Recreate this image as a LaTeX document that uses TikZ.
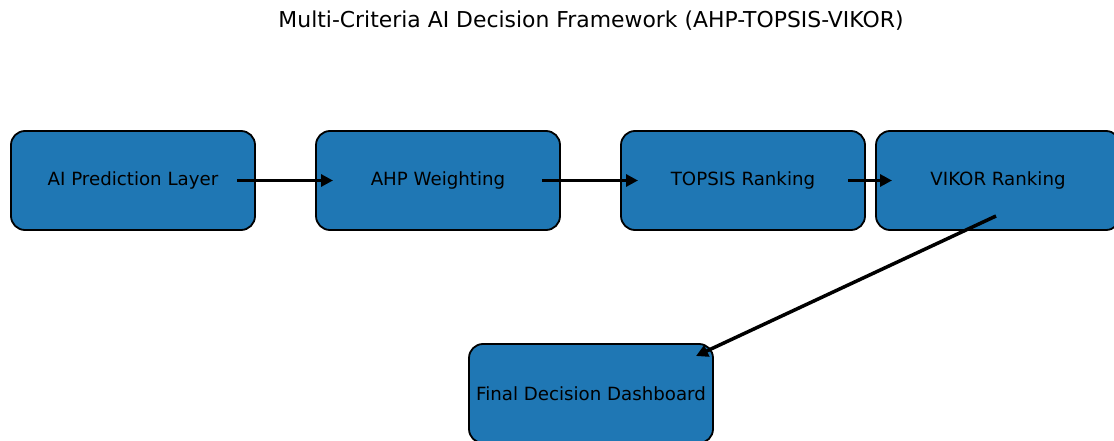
\documentclass[tikz,border=0pt]{standalone}
\usepackage{fontspec}
\setmainfont{DejaVu Sans}
\usetikzlibrary{arrows.meta}
\definecolor{boxblue}{HTML}{1F77B4}
\begin{document}
\begin{tikzpicture}[x=1pt,y=-1pt,
  stage/.style={draw=black, line width=1.8pt, fill=boxblue, rounded corners=14pt,
    minimum width=244pt, minimum height=99pt, inner sep=0pt, font=\fontsize{18.2}{20}\selectfont, text=black},
  flow/.style={line width=3.5pt, -{Triangle[length=12pt,width=12pt]}}]
\useasboundingbox (0,0) rectangle (1114,441);
\node[font=\fontsize{21.9}{26}\selectfont] (title) at (591,21) {Multi-Criteria AI Decision Framework (AHP-TOPSIS-VIKOR)};
\node[stage] (ai) at (133,180.5) {AI Prediction Layer};
\node[stage] (ahp) at (438,180.5) {AHP Weighting};
\node[stage] (top) at (743,180.5) {TOPSIS Ranking};
\node[stage] (vik) at (998,180.5) {VIKOR Ranking};
\node[stage] (fin) at (591,393.5) {Final Decision Dashboard};
\coordinate (a1) at (237,180.5); \coordinate (b1) at (333,180.5);
\coordinate (a2) at (542,180.5); \coordinate (b2) at (638,180.5);
\coordinate (a3) at (848,180.5); \coordinate (b3) at (892,180.5);
\coordinate (a4) at (996,216); \coordinate (b4) at (696,356);
\draw[flow] (a1) -- (b1);
\draw[flow] (a2) -- (b2);
\draw[flow] (a3) -- (b3);
\draw[flow] (a4) -- (b4);
\end{tikzpicture}
\end{document}
